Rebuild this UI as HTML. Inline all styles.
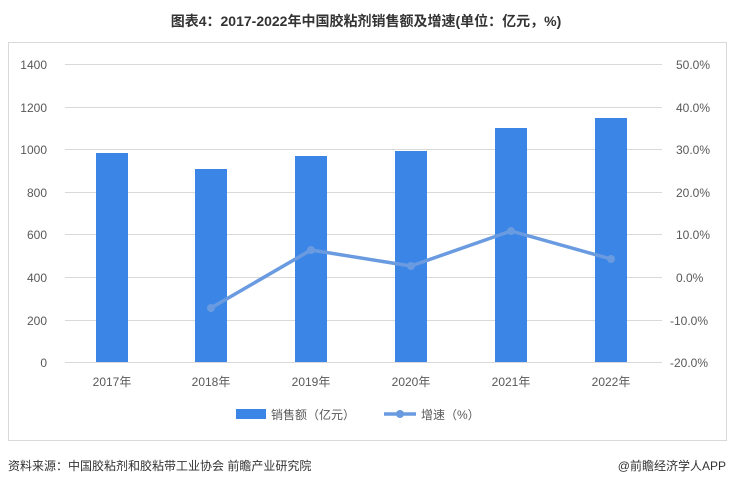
<!DOCTYPE html>
<html><head><meta charset="utf-8"><style>
body{margin:0;width:733px;height:486px;background:#fff;font-family:"Liberation Sans","Noto Sans CJK SC",sans-serif;overflow:hidden}
</style></head><body>
<svg width="733" height="486" xmlns="http://www.w3.org/2000/svg" font-family="Liberation Sans, Noto Sans CJK SC, sans-serif">
<text x="366" y="26" text-anchor="middle" font-size="14" font-weight="bold" fill="#333">图表4：2017-2022年中国胶粘剂销售额及增速(单位：亿元，%)</text>
<rect x="8.5" y="42.5" width="718" height="398" fill="none" stroke="#d9d9d9"/>
<g stroke="#d9d9d9" stroke-width="1">
<line x1="65" x2="662" y1="64.5" y2="64.5"/><line x1="65" x2="662" y1="107.5" y2="107.5"/>
<line x1="65" x2="662" y1="149.5" y2="149.5"/><line x1="65" x2="662" y1="192.5" y2="192.5"/>
<line x1="65" x2="662" y1="234.5" y2="234.5"/><line x1="65" x2="662" y1="277.5" y2="277.5"/>
<line x1="65" x2="662" y1="320.5" y2="320.5"/><line x1="65" x2="662" y1="362.5" y2="362.5"/>
</g>
<g font-size="12" fill="#595959" text-anchor="end">
<text x="47" y="69">1400</text><text x="47" y="112">1200</text><text x="47" y="154">1000</text>
<text x="47" y="197">800</text><text x="47" y="239">600</text><text x="47" y="282">400</text>
<text x="47" y="325">200</text><text x="47" y="367">0</text>
</g>
<g font-size="12" fill="#595959" text-anchor="start">
<text x="676" y="69">50.0%</text><text x="676" y="112">40.0%</text><text x="676" y="154">30.0%</text>
<text x="676" y="197">20.0%</text><text x="676" y="239">10.0%</text><text x="676" y="282">0.0%</text>
<text x="670" y="325">-10.0%</text><text x="670" y="367">-20.0%</text>
</g>
<g fill="#3a85e6">
<rect x="96" y="153" width="32" height="209"/><rect x="195" y="169" width="32" height="193"/>
<rect x="295" y="156" width="32" height="206"/><rect x="395" y="151" width="32" height="211"/>
<rect x="495" y="128" width="32" height="234"/><rect x="595" y="118" width="32" height="244"/>
</g>
<polyline points="211,308 311,250 411,266 511,231 611,259" fill="none" stroke="#6a9be0" stroke-width="3.5" stroke-linejoin="round"/>
<g fill="#6a9be0"><circle cx="211" cy="308" r="4"/><circle cx="311" cy="250" r="4"/><circle cx="411" cy="266" r="4"/><circle cx="511" cy="231" r="4"/><circle cx="611" cy="259" r="4"/></g>
<g font-size="12" fill="#595959" text-anchor="middle">
<text x="112" y="386">2017年</text><text x="211" y="386">2018年</text><text x="311" y="386">2019年</text>
<text x="411" y="386">2020年</text><text x="511" y="386">2021年</text><text x="611" y="386">2022年</text>
</g>
<rect x="236" y="409" width="30" height="10" fill="#3a85e6"/>
<text x="271" y="419" font-size="12" fill="#595959">销售额（亿元）</text>
<line x1="384" x2="416" y1="414" y2="414" stroke="#6a9be0" stroke-width="3.5"/>
<circle cx="400" cy="414" r="4" fill="#6a9be0"/>
<text x="421" y="419" font-size="12" fill="#595959">增速（%）</text>
<text x="8" y="470" font-size="12" fill="#333">资料来源：中国胶粘剂和胶粘带工业协会 前瞻产业研究院</text>
<text x="726" y="470" font-size="12" fill="#333" text-anchor="end">@前瞻经济学人APP</text>
</svg>
</body></html>
